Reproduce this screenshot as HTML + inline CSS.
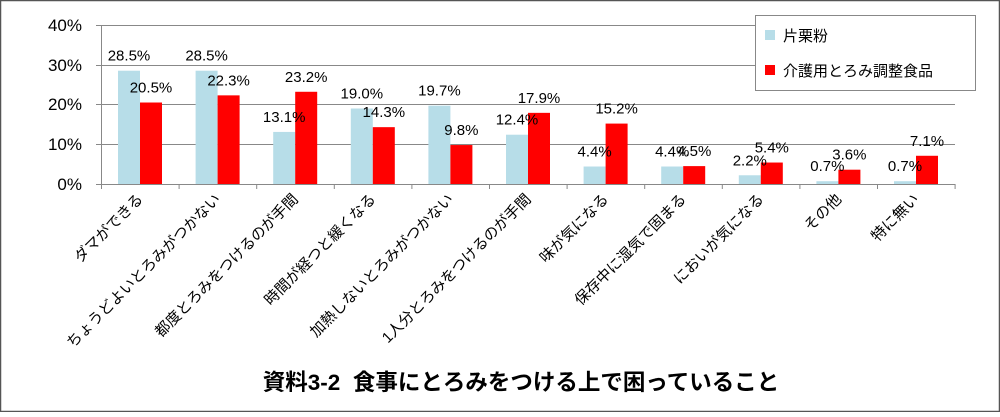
<!DOCTYPE html>
<html><head><meta charset="utf-8"><style>
body{margin:0;background:#fff}
svg text{font-family:"Liberation Sans","Noto Sans CJK JP",sans-serif;fill:#000}
</style></head><body>
<svg width="1000" height="412" viewBox="0 0 1000 412" xmlns="http://www.w3.org/2000/svg">
<rect x="0.5" y="0.5" width="999" height="411" fill="#fff" stroke="#555" stroke-width="1.5"/>
<g stroke="#888" stroke-width="1">
<line x1="96" y1="25.5" x2="955" y2="25.5"/>
<line x1="96" y1="65.5" x2="955" y2="65.5"/>
<line x1="96" y1="104.5" x2="955" y2="104.5"/>
<line x1="96" y1="144.5" x2="955" y2="144.5"/>
<line x1="96" y1="184.5" x2="955" y2="184.5"/>
<line x1="101.5" y1="25" x2="101.5" y2="189"/>
</g>
<g font-size="17" text-anchor="end">
<text x="82" y="31">40%</text><text x="82" y="71">30%</text><text x="82" y="110">20%</text><text x="82" y="150">10%</text><text x="82" y="190">0%</text>
</g>
<g id="bars"></g>
<rect x="755.5" y="15.5" width="220" height="75" fill="#fff" stroke="#888"/>
<rect x="765" y="30" width="10" height="10" fill="#b7dde8"/>
<rect x="765" y="65" width="10" height="10" fill="#ff0000"/>
<text x="783" y="41" font-size="15">片栗粉</text>
<text x="783" y="76" font-size="15">介護用とろみ調整食品</text>
<text x="521" y="390" font-size="22.5" font-weight="bold" text-anchor="middle" style="white-space:pre">資料3-2  食事にとろみをつける上で困っていること</text>
</svg>
<script>
var b=[28.5,28.5,13.1,19.0,19.7,12.4,4.4,4.4,2.2,0.7,0.7],r=[20.5,22.3,23.2,14.3,9.8,17.9,15.2,4.5,5.4,3.6,7.1];
var L=["ダマができる","ちょうどよいとろみがつかない","都度とろみをつけるのが手間","時間が経つと緩くなる","加熱しないとろみがつかない","1人分とろみをつけるのが手間","味が気になる","保存中に湿気で固まる","においが気になる","その他","特に無い"];
var s="",w=77.6;
for(var i=0;i<11;i++){var x0=101+i*w,yb=184-b[i]*3.975,yr=184-r[i]*3.975;
s+='<rect x="'+(x0+17)+'" y="'+yb+'" width="22" height="'+(184-yb)+'" fill="#b7dde8"/>';
s+='<rect x="'+(x0+39)+'" y="'+yr+'" width="22" height="'+(184-yr)+'" fill="#ff0000"/>';
s+='<line x1="'+(x0+w+.5)+'" y1="184" x2="'+(x0+w+.5)+'" y2="189" stroke="#888"/>';
s+='<text x="'+(x0+28)+'" y="'+(yb-10)+'" font-size="15" text-anchor="middle">'+b[i].toFixed(1)+'%</text>';
s+='<text x="'+(x0+50)+'" y="'+(yr-10)+'" font-size="15" text-anchor="middle">'+r[i].toFixed(1)+'%</text>';
var cx=x0+w/2+4;
s+='<text transform="translate('+cx+',200) rotate(-45)" font-size="15" text-anchor="end">'+L[i]+'</text>';}
document.getElementById("bars").innerHTML=s;
</script>
</body></html>
